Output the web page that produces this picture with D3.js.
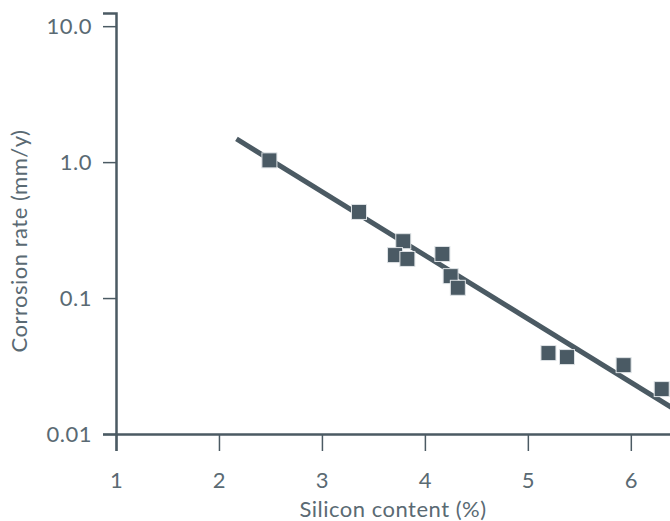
<!DOCTYPE html>
<html><head><meta charset="utf-8">
<script src="https://cdn.jsdelivr.net/npm/d3@7"></script>
<style>body{margin:0;background:#fff}svg{display:block}</style>
</head><body>
<svg id="c" width="670" height="521"></svg>
<script>
const siliconPct = [2.49, 3.36, 3.79, 3.71, 3.83, 4.17, 4.25, 4.32, 5.20, 5.38, 5.93, 6.30];
const corrosionRate = [1.03, 0.43, 0.262, 0.207, 0.194, 0.211, 0.145, 0.119, 0.0394, 0.0368, 0.0321, 0.0214];
const fitX = [2.17, 6.5];
const fitY = [1.48, 0.0140];
const xTicks = [1, 2, 3, 4, 5, 6];
const yTicks = [10, 1, 0.1, 0.01];
const yTickLabels = ["10.0", "1.0", "0.1", "0.01"];

const axisCol = "#4b5a63", textCol = "#5a6a73", markCol = "#4a5a64";
const font = "Lato, sans-serif";
const fs = 22, ls = "0.5px";
const svg = d3.select("#c");
const x = d3.scaleLinear().domain([1, 6.4]).range([116, 672]);
const y = d3.scaleLog().domain([0.01, 12.5]).range([434, 13]);

// fit line
svg.append("line")
  .attr("x1", x(fitX[0])).attr("y1", y(fitY[0]))
  .attr("x2", x(fitX[1])).attr("y2", y(fitY[1]))
  .attr("stroke", axisCol).attr("stroke-width", 5);

// points
const s = 15;
svg.selectAll("rect.pt").data(siliconPct).join("rect").attr("class", "pt")
  .attr("x", (d) => x(d) - s / 2)
  .attr("y", (d, i) => y(corrosionRate[i]) - s / 2)
  .attr("width", s).attr("height", s)
  .attr("fill", markCol).attr("stroke", "#dfe3e6").attr("stroke-width", 1);

// x axis
const xa = svg.append("g").attr("transform", "translate(0,434)")
  .call(d3.axisBottom(x).tickValues(xTicks).tickFormat(d3.format("d")).tickSizeOuter(0).tickSize(17).tickPadding(21));
xa.select(".domain").attr("stroke", axisCol).attr("stroke-width", 2.5);
xa.selectAll(".tick line").attr("stroke", axisCol).attr("stroke-width", 1.5);
xa.selectAll(".tick text").attr("fill", textCol).attr("font-family", font).attr("font-size", fs).attr("letter-spacing", ls);

// y axis
const ya = svg.append("g").attr("transform", "translate(116,0)")
  .call(d3.axisLeft(y).tickValues(yTicks).tickFormat((d, i) => yTickLabels[i]).tickSizeOuter(0).tickSize(13).tickPadding(11));
ya.select(".domain").attr("stroke", axisCol).attr("stroke-width", 2.5);
ya.selectAll(".tick line").attr("stroke", axisCol).attr("stroke-width", 1.5);
ya.selectAll(".tick text").attr("fill", textCol).attr("font-family", font).attr("font-size", fs).attr("letter-spacing", ls);

// titles
svg.append("text").attr("x", 393).attr("y", 517).attr("text-anchor", "middle")
  .attr("fill", textCol).attr("font-family", font).attr("font-size", fs).attr("letter-spacing", ls)
  .text("Silicon content (%)");
svg.append("text").attr("transform", "translate(27,241) rotate(-90)").attr("text-anchor", "middle")
  .attr("fill", textCol).attr("font-family", font).attr("font-size", fs).attr("letter-spacing", ls)
  .text("Corrosion rate (mm/y)");
</script>
</body></html>
